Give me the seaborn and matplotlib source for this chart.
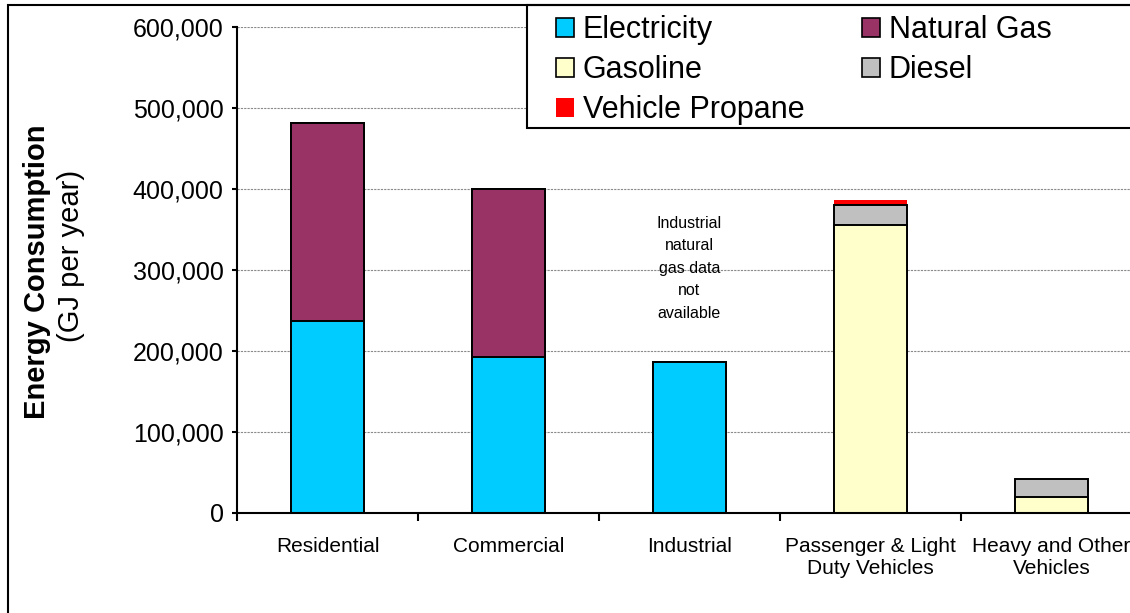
import matplotlib
matplotlib.use("Agg")
import matplotlib.pyplot as plt
from matplotlib.patches import Patch, Rectangle
from matplotlib.ticker import FuncFormatter
import numpy as np
import seaborn as sns

# Annual energy consumption by sector (GJ per year)
categories = ["Residential", "Commercial", "Industrial",
              "Passenger & Light\nDuty Vehicles", "Heavy and Other\nVehicles"]
electricity = [237000, 192000, 187000, 0, 0]
natural_gas = [245000, 208000, 0, 0, 0]
gasoline = [0, 0, 0, 356000, 20000]
diesel = [0, 0, 0, 24000, 22000]
vehicle_propane = [0, 0, 0, 6000, 0]

series_names = ["Electricity", "Natural Gas", "Gasoline", "Diesel", "Vehicle Propane"]
series_values = [electricity, natural_gas, gasoline, diesel, vehicle_propane]
series_colors = ["#00CCFF", "#993366", "#FFFFCC", "#C0C0C0", "#FF0000"]
series_edges = ["black", "black", "black", "black", "none"]

y_ticks = [0, 100000, 200000, 300000, 400000, 500000, 600000]

sns.set_style("white")
plt.rcParams["font.family"] = ["Liberation Sans", "DejaVu Sans"]
plt.rcParams["text.color"] = "black"
plt.rcParams["xtick.labelcolor"] = "black"
plt.rcParams["ytick.labelcolor"] = "black"

W, H = 1130, 613
fig = plt.figure(figsize=(W / 100, H / 100), dpi=100)
ax = fig.add_axes([237 / W, 1 - 513 / H, 905 / W, (513 - 27) / H])

# Stacked bars: draw cumulative totals from the top layer down so each
# lower segment covers the one above it.
cumulative = np.cumsum(np.array(series_values, dtype=float), axis=0)
for i in reversed(range(len(series_names))):
    sns.barplot(x=categories, y=cumulative[i], order=categories, ax=ax,
                color=series_colors[i], saturation=1, width=0.4,
                edgecolor=series_edges[i], linewidth=1.4 if series_edges[i] != "none" else 0,
                errorbar=None)

ax.set_xlim(-0.5, 4.5)
ax.set_ylim(0, 600000)
ax.set_yticks(y_ticks)
ax.yaxis.set_major_formatter(FuncFormatter(lambda v, p: f"{v:,.0f}"))
ax.set_xlabel("")
ax.set_ylabel("")

ax.yaxis.grid(True, color="#8a8a8a", linestyle=(0, (2, 1)), linewidth=0.8)
ax.xaxis.grid(False)
ax.set_axisbelow(True)

for side in ["top", "right"]:
    ax.spines[side].set_visible(False)
for side in ["left", "bottom"]:
    ax.spines[side].set_linewidth(1.5)
    ax.spines[side].set_color("black")

ax.tick_params(axis="y", which="major", direction="out", length=3.6, width=1.5,
               color="black", pad=6, labelsize=18, left=True, labelcolor="black")
ax.tick_params(axis="x", which="major", length=0, pad=17, labelsize=15, labelcolor="black")
ax.set_xticks(np.arange(-0.5, 5, 1), minor=True)
ax.tick_params(axis="x", which="minor", direction="out", length=5.5, width=1.5,
               color="black", bottom=True)

ax.text(2, 302000, "Industrial\nnatural\ngas data\nnot\navailable",
        ha="center", va="center", fontsize=11.5, linespacing=1.62, color="black")

# Axis title in two lines
fig.text(37 / W, 1 - 272 / H, "Energy Consumption", rotation=90,
         fontsize=21, fontweight="bold", ha="center", va="center")
fig.text(71 / W, 1 - 256 / H, "(GJ per year)", rotation=90,
         fontsize=21, ha="center", va="center")

# Chart frame and legend box
fig.patches.append(Rectangle((8 / W, -0.2), 1.2, 1.2 - 5 / H, transform=fig.transFigure,
                             fill=False, edgecolor="black", linewidth=1.5, zorder=4))
fig.patches.append(Rectangle((527 / W, 1 - 128 / H), 0.6, 123 / H, transform=fig.transFigure,
                             facecolor="white", edgecolor="black", linewidth=1.5, zorder=3))

handles = [Patch(facecolor=c, edgecolor=e, linewidth=1.2)
           for c, e in zip(series_colors, series_edges)]
order = [0, 2, 4, 1, 3]
fig.legend([handles[i] for i in order], [series_names[i] for i in order],
           ncol=2, loc="upper left", bbox_to_anchor=(556 / W, 1 - 15 / H),
           frameon=False, fontsize=22, handlelength=0.58, handleheight=0.58,
           handletextpad=0.3, columnspacing=1.88, labelspacing=0.33,
           borderaxespad=0, borderpad=0)

fig.savefig("out.png", dpi=100)
